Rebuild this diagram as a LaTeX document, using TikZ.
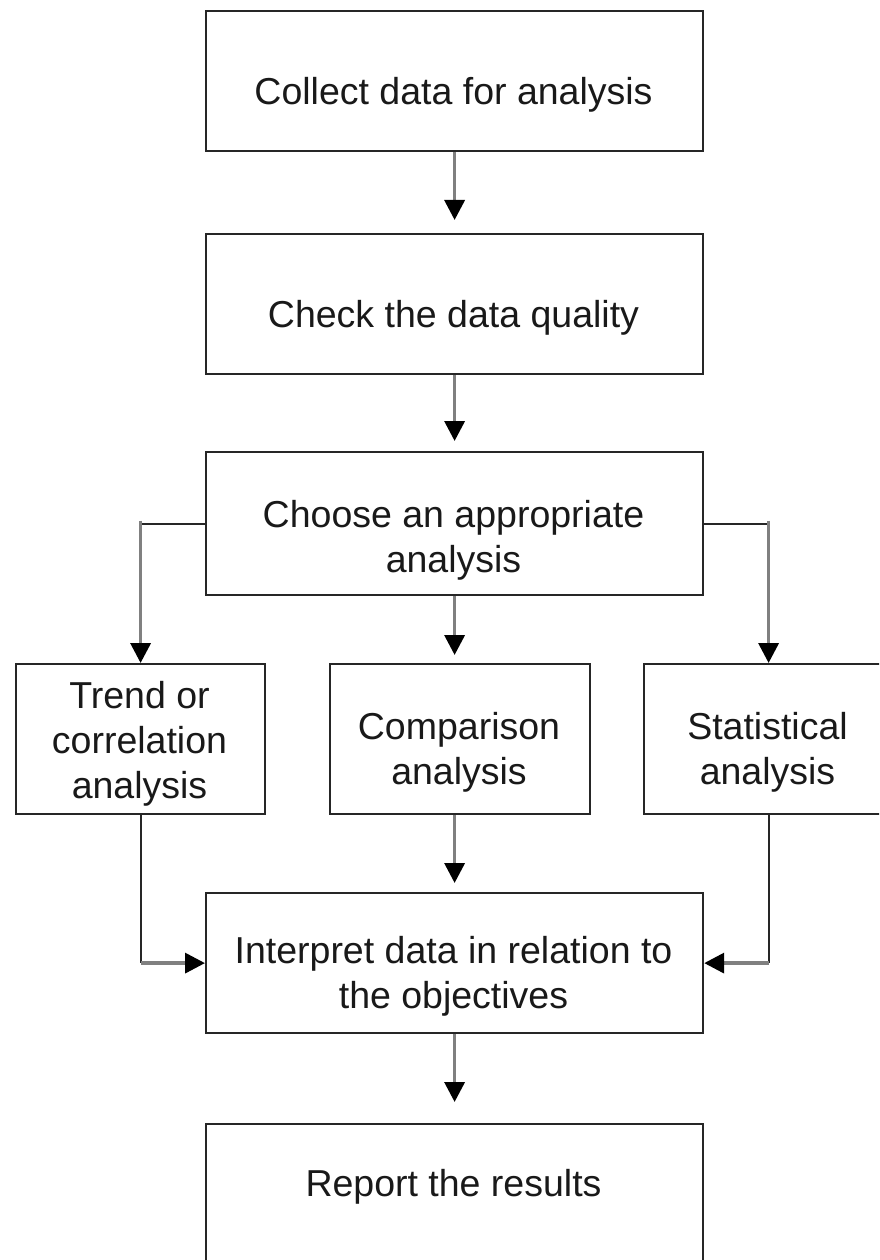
\documentclass[tikz,border=0pt]{standalone}
\usepackage{fontspec}
\setmainfont{Liberation Sans}
\usetikzlibrary{arrows.meta,calc}
% fixed first-line height so text nodes can be placed by their top edge
\newcommand\boxtop{\rule{0pt}{30pt}}
\begin{document}
\begin{tikzpicture}[x=1pt,y=-1pt,
  box/.style={draw=black!85, line width=2.2pt, inner sep=0pt, anchor=north west},
  lbl/.style={font=\fontsize{37.5}{45}\selectfont, align=center, inner sep=0pt, anchor=north, text=black!90},
  link/.style={draw=black!85, line width=2pt},
  flow/.style={draw=black!50, line width=3.5pt,
    -{Triangle[length=20pt,width=20pt,color=black]}}]
  \useasboundingbox (0,0) rectangle (879,1260);
  \clip (0,0) rectangle (879,1260);

  % process boxes
  \node[box, minimum width=497pt, minimum height=140pt] (collect) at (205,10) {};
  \node[box, minimum width=497pt, minimum height=140pt] (check)   at (205,233) {};
  \node[box, minimum width=497pt, minimum height=143pt] (choose)  at (205,451) {};
  \node[box, minimum width=249pt, minimum height=150pt] (trend)   at (15,663) {};
  \node[box, minimum width=260pt, minimum height=150pt] (comp)    at (329,663) {};
  \node[box, minimum width=249pt, minimum height=150pt] (stat)    at (643,663) {};
  \node[box, minimum width=497pt, minimum height=140pt] (interp)  at (205,892) {};
  \node[box, minimum width=497pt, minimum height=140pt] (report)  at (205,1123) {};

  % box texts
  \node[lbl] (collect-t) at (453.5,74)  {\boxtop Collect data for analysis};
  \node[lbl] (check-t)   at (453.5,297) {\boxtop Check the data quality};
  \node[lbl] (choose-t)  at (453.5,497) {\boxtop Choose an appropriate\\analysis};
  \node[lbl] (trend-t)   at (139.5,678) {\boxtop Trend or\\correlation\\analysis};
  \node[lbl] (comp-t)    at (459,709)   {\boxtop Comparison\\analysis};
  \node[lbl] (stat-t)    at (767.5,709) {\boxtop Statistical\\analysis};
  \node[lbl] (interp-t)  at (453.5,933) {\boxtop Interpret data in relation to\\the objectives};
  \node[lbl] (report-t)  at (453.5,1166) {\boxtop Report the results};

  % main column
  \draw[flow, shorten >=13pt] (collect.south) -- (check.north);
  \draw[flow, shorten >=10pt] (check.south) -- (choose.north);
  \draw[flow, shorten >=8pt]  (choose.south) -- (choose.south |- comp.north);
  \draw[flow, shorten >=9pt]  (interp.north |- comp.south) -- (interp.north);
  \draw[flow, shorten >=21pt] (interp.south) -- (report.north);

  % branches out of the choice box
  \coordinate (lsplit) at (choose.west -| trend.north);
  \coordinate (rsplit) at (choose.east -| stat.north);
  \draw[link] (choose.west) -- (lsplit);
  \draw[flow] ($(lsplit)+(0,-3)$) -- (trend.north);
  \draw[link] (choose.east) -- (rsplit);
  \draw[flow] ($(rsplit)+(0,-3)$) -- (stat.north);

  % branches back into the interpretation box
  \coordinate (ljoin) at (trend.south |- interp.west);
  \coordinate (rjoin) at (stat.south |- interp.east);
  \draw[link] (trend.south) -- (ljoin);
  \draw[flow] (ljoin) -- (interp.west);
  \draw[link] (stat.south) -- (rjoin);
  \draw[flow] (rjoin) -- (interp.east);
\end{tikzpicture}
\end{document}
